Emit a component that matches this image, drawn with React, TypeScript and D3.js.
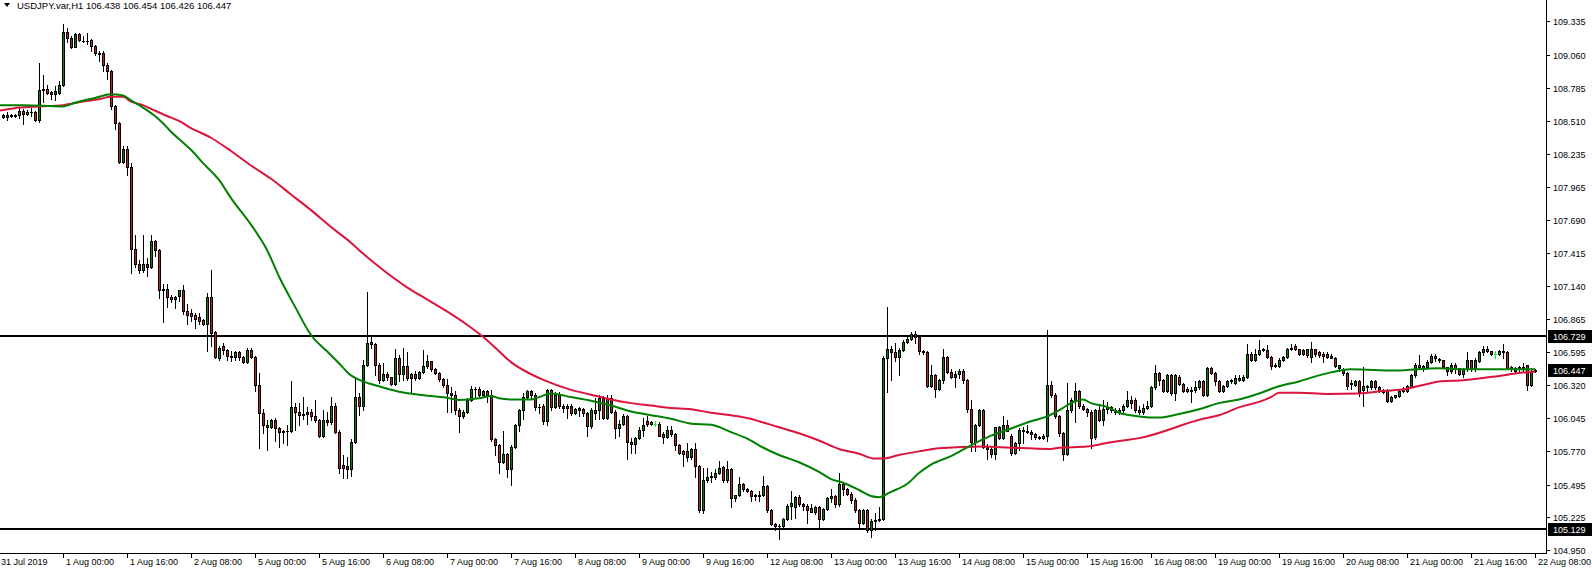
import React from 'react';
import * as d3 from 'd3';

type Bar = [number, number, number, number]; // open, high, low, close

// ---- hourly candles, one array per trading day ----
const jul31: Bar[] = [
  [108.56,108.57,108.53,108.54],[108.54,108.58,108.52,108.56],[108.56,108.57,108.54,108.55],
  [108.55,108.57,108.54,108.56],[108.56,108.62,108.53,108.59],[108.59,108.61,108.48,108.57],
  [108.57,108.60,108.56,108.58],[108.58,108.62,108.55,108.585],[108.58,108.59,108.51,108.52],
  [108.52,108.99,108.50,108.77],[108.77,108.89,108.67,108.775],[108.775,108.81,108.73,108.74],
  [108.75,108.76,108.69,108.73],[108.73,108.80,108.68,108.76],[108.74,108.84,108.73,108.81],
];
const aug01: Bar[] = [
  [108.81,109.31,108.80,109.25],[109.25,109.28,109.16,109.20],[109.20,109.21,109.11,109.12],
  [109.12,109.24,109.12,109.23],[109.23,109.24,109.17,109.18],[109.175,109.21,109.16,109.17],
  [109.17,109.24,109.15,109.175],[109.18,109.19,109.09,109.13],[109.13,109.14,109.06,109.07],
  [109.07,109.09,109.01,109.065],[109.07,109.09,108.92,108.97],[108.97,108.99,108.86,108.92],
  [108.92,108.93,108.61,108.63],[108.63,108.64,108.44,108.49],[108.49,108.50,108.16,108.17],
  [108.17,108.30,108.16,108.28],[108.28,108.30,108.06,108.13],[108.13,108.16,107.25,107.45],
  [107.45,107.56,107.30,107.32],[107.32,107.36,107.25,107.27],[107.27,107.56,107.26,107.32],
  [107.32,107.37,107.22,107.30],[107.30,107.56,107.29,107.51],[107.51,107.52,107.39,107.44],
];
const aug02: Bar[] = [
  [107.44,107.45,107.04,107.11],[107.12,107.16,106.84,107.11],[107.12,107.16,106.97,107.05],
  [107.05,107.07,107.01,107.03],[107.05,107.06,106.96,107.03],[107.06,107.11,107.02,107.11],
  [107.11,107.15,106.91,106.93],[106.93,106.99,106.83,106.90],[106.92,106.95,106.85,106.89],
  [106.90,106.92,106.79,106.87],[106.88,106.92,106.83,106.85],[106.86,106.87,106.82,106.83],
  [106.83,107.08,106.60,107.05],[107.05,107.27,106.64,106.75],[106.76,106.77,106.54,106.55],
  [106.54,106.64,106.53,106.63],[106.64,106.67,106.58,106.61],[106.61,106.62,106.53,106.56],
  [106.56,106.60,106.52,106.55],[106.55,106.60,106.53,106.59],[106.59,106.60,106.53,106.55],
  [106.55,106.56,106.50,106.51],[106.51,106.63,106.50,106.61],[106.61,106.63,106.54,106.55],
];
const aug05: Bar[] = [
  [106.55,106.56,106.27,106.32],[106.32,106.42,105.80,106.09],[106.09,106.12,105.92,105.99],
  [105.99,106.03,105.78,105.97],[105.97,106.04,105.96,106.03],[106.03,106.05,105.86,105.96],
  [105.96,105.97,105.81,105.93],[105.93,105.95,105.84,105.935],[105.94,105.99,105.82,105.935],
  [105.94,106.35,105.93,106.14],[106.14,106.17,105.95,106.10],[106.10,106.17,105.99,106.07],
  [106.07,106.22,106.04,106.08],[106.08,106.14,106.00,106.10],[106.10,106.12,106.03,106.06],
  [106.06,106.20,106.01,106.03],[106.03,106.04,105.89,105.90],[105.90,106.11,105.89,106.03],
  [106.03,106.10,105.99,106.01],[106.01,106.22,106.00,106.15],[106.15,106.17,105.92,105.93],
  [105.93,105.95,105.59,105.63],[105.66,105.74,105.55,105.63],[105.65,105.72,105.55,105.62],
];
const aug06: Bar[] = [
  [105.62,105.87,105.57,105.85],[105.85,106.37,105.84,106.22],[106.22,106.25,106.07,106.15],
  [106.15,106.53,106.11,106.49],[106.49,107.09,106.48,106.67],[106.68,106.73,106.63,106.66],
  [106.66,106.67,106.40,106.49],[106.49,106.50,106.34,106.36],[106.36,106.50,106.35,106.41],
  [106.41,106.43,106.36,106.39],[106.39,106.39,106.32,106.33],[106.33,106.62,106.32,106.54],
  [106.54,106.57,106.35,106.41],[106.41,106.63,106.36,106.48],[106.48,106.59,106.36,106.38],
  [106.38,106.42,106.25,106.41],[106.41,106.44,106.36,106.38],[106.38,106.44,106.37,106.43],
  [106.43,106.61,106.42,106.48],[106.48,106.57,106.46,106.52],[106.52,106.52,106.44,106.45],
  [106.45,106.46,106.41,106.42],[106.42,106.43,106.35,106.37],[106.37,106.38,106.30,106.32],
];
const aug07: Bar[] = [
  [106.32,106.37,106.10,106.25],[106.25,106.30,106.10,106.24],[106.24,106.27,106.08,106.11],
  [106.11,106.13,105.93,106.06],[106.06,106.11,106.05,106.10],[106.10,106.21,106.09,106.20],
  [106.20,106.31,106.19,106.29],[106.29,106.30,106.22,106.285],[106.29,106.30,106.23,106.24],
  [106.24,106.28,106.23,106.27],[106.27,106.28,106.18,106.24],[106.24,106.28,105.86,105.87],
  [105.87,105.88,105.74,105.82],[105.82,105.83,105.59,105.68],[105.68,105.94,105.67,105.75],
  [105.75,105.76,105.56,105.62],[105.62,105.82,105.49,105.81],[105.81,106.00,105.80,105.99],
  [105.99,106.12,105.94,106.11],[106.11,106.25,106.04,106.22],[106.22,106.28,106.21,106.27],
  [106.27,106.28,106.21,106.24],[106.24,106.25,106.11,106.14],[106.14,106.16,106.09,106.135],
];
const aug08: Bar[] = [
  [106.15,106.16,106.00,106.02],[106.02,106.29,105.99,106.28],[106.28,106.29,106.11,106.14],
  [106.14,106.26,106.13,106.24],[106.24,106.26,106.13,106.15],[106.15,106.16,106.10,106.13],
  [106.13,106.16,106.05,106.15],[106.15,106.16,106.07,106.09],[106.09,106.13,106.08,106.12],
  [106.11,106.14,106.06,106.13],[106.12,106.13,106.06,106.09],[106.09,106.10,105.90,105.98],
  [105.98,106.13,105.96,106.11],[106.09,106.21,106.04,106.11],[106.11,106.24,106.04,106.21],
  [106.21,106.23,106.04,106.05],[106.05,106.24,106.04,106.21],[106.21,106.24,106.09,106.10],
  [106.10,106.11,105.88,105.96],[105.96,106.03,105.90,106.00],[106.00,106.08,105.99,106.06],
  [106.06,106.07,105.71,105.85],[105.85,105.88,105.76,105.83],[105.83,105.89,105.76,105.88],
];
const aug09: Bar[] = [
  [105.88,105.97,105.87,105.95],[105.95,106.05,105.90,105.99],[106.02,106.06,105.98,106.00],
  [106.01,106.02,105.99,106.00],[106.00,106.02,105.98,106.00],[106.00,106.01,105.90,105.90],
  [105.91,105.93,105.84,105.89],[105.89,105.98,105.88,105.95],[105.95,105.98,105.90,105.91],
  [105.91,105.92,105.78,105.82],[105.82,105.83,105.75,105.76],[105.77,105.78,105.65,105.75],
  [105.77,105.84,105.69,105.72],[105.72,105.80,105.71,105.79],[105.79,105.84,105.56,105.65],
  [105.65,105.66,105.27,105.28],[105.28,105.63,105.26,105.53],[105.53,105.63,105.52,105.56],
  [105.57,105.60,105.52,105.56],[105.56,105.62,105.54,105.59],[105.59,105.69,105.58,105.63],
  [105.64,105.65,105.52,105.53],[105.53,105.69,105.52,105.62],[105.62,105.63,105.31,105.38],
];
const aug12: Bar[] = [
  [105.38,105.41,105.36,105.41],[105.41,105.56,105.40,105.50],[105.50,105.51,105.44,105.46],
  [105.46,105.47,105.43,105.44],[105.44,105.45,105.36,105.40],[105.40,105.42,105.37,105.405],
  [105.40,105.44,105.36,105.405],[105.41,105.57,105.40,105.48],[105.48,105.49,105.27,105.28],
  [105.28,105.29,105.16,105.17],[105.17,105.18,105.12,105.15],[105.15,105.17,105.04,105.155],
  [105.15,105.22,105.14,105.21],[105.21,105.33,105.20,105.32],[105.32,105.44,105.21,105.34],
  [105.31,105.40,105.22,105.39],[105.39,105.41,105.32,105.33],[105.33,105.34,105.28,105.32],
  [105.32,105.33,105.18,105.28],[105.30,105.33,105.27,105.27],[105.27,105.32,105.25,105.31],
  [105.31,105.32,105.14,105.21],[105.21,105.30,105.20,105.29],[105.29,105.39,105.28,105.38],
];
const aug13: Bar[] = [
  [105.38,105.46,105.35,105.40],[105.40,105.41,105.31,105.33],[105.33,105.59,105.32,105.50],
  [105.50,105.52,105.41,105.46],[105.46,105.47,105.41,105.42],[105.42,105.43,105.34,105.37],
  [105.37,105.38,105.27,105.28],[105.28,105.29,105.13,105.18],[105.18,105.29,105.17,105.28],
  [105.28,105.29,105.10,105.12],[105.12,105.21,105.06,105.19],[105.20,105.26,105.12,105.195],
  [105.20,105.31,105.19,105.21],[105.21,106.56,105.20,106.54],[106.54,106.97,106.26,106.62],
  [106.62,106.64,106.36,106.59],[106.59,106.67,106.52,106.55],[106.55,106.63,106.40,106.61],
  [106.61,106.69,106.60,106.68],[106.68,106.72,106.67,106.70],[106.70,106.76,106.69,106.74],
  [106.74,106.77,106.67,106.72],[106.72,106.73,106.58,106.60],[106.60,106.61,106.58,106.59],
];
const aug14: Bar[] = [
  [106.59,106.60,106.30,106.31],[106.31,106.49,106.30,106.40],[106.40,106.41,106.22,106.29],
  [106.29,106.37,106.28,106.36],[106.36,106.62,106.34,106.55],[106.55,106.56,106.42,106.43],
  [106.43,106.45,106.38,106.39],[106.39,106.44,106.30,106.41],[106.41,106.45,106.38,106.44],
  [106.44,106.45,106.34,106.36],[106.36,106.37,106.10,106.12],[106.12,106.20,105.77,105.85],
  [105.85,106.00,105.77,105.99],[105.99,106.12,105.98,106.11],[106.11,106.12,105.80,105.81],
  [105.81,105.83,105.71,105.79],[105.79,105.81,105.72,105.75],[105.75,105.97,105.71,105.97],
  [105.97,105.98,105.87,105.88],[105.88,106.06,105.87,105.99],[105.99,106.03,105.95,105.94],
  [105.90,105.91,105.74,105.76],[105.76,105.85,105.75,105.84],[105.84,105.96,105.78,105.95],
];
const aug15: Bar[] = [
  [105.95,105.97,105.84,105.94],[105.94,105.99,105.92,105.93],[105.93,105.95,105.87,105.91],
  [105.91,105.92,105.87,105.89],[105.89,105.90,105.87,105.88],[105.88,105.91,105.87,105.90],
  [105.90,106.78,105.86,106.32],[106.32,106.35,106.22,106.24],[106.24,106.25,106.05,106.06],
  [106.06,106.07,105.90,105.92],[105.92,105.93,105.70,105.75],[105.75,106.34,105.74,106.11],
  [106.11,106.21,106.10,106.20],[106.20,106.34,106.01,106.27],[106.27,106.28,106.13,106.15],
  [106.15,106.16,106.11,106.12],[106.12,106.13,106.06,106.10],[106.10,106.11,105.80,105.88],
  [105.89,106.12,105.87,106.11],[106.11,106.16,106.02,106.03],[106.03,106.20,105.99,106.12],
  [106.12,106.18,106.09,106.14],[106.14,106.15,106.10,106.11],[106.11,106.13,106.08,106.10],
];
const aug16: Bar[] = [
  [106.10,106.13,106.08,106.11],[106.11,106.16,106.10,106.15],[106.15,106.27,106.14,106.20],
  [106.20,106.23,106.13,106.17],[106.20,106.21,106.10,106.11],[106.11,106.15,106.08,106.10],
  [106.10,106.16,106.08,106.13],[106.13,106.19,106.12,106.15],[106.15,106.31,106.14,106.30],
  [106.30,106.49,106.29,106.42],[106.42,106.43,106.32,106.36],[106.36,106.37,106.26,106.27],
  [106.27,106.41,106.26,106.40],[106.40,106.41,106.24,106.25],[106.25,106.41,106.20,106.40],
  [106.39,106.40,106.32,106.33],[106.33,106.34,106.26,106.27],[106.29,106.30,106.26,106.27],
  [106.27,106.30,106.18,106.28],[106.28,106.35,106.26,106.30],[106.30,106.36,106.29,106.35],
  [106.35,106.36,106.23,106.24],[106.24,106.47,106.23,106.46],[106.46,106.47,106.41,106.42],
];
const aug19: Bar[] = [
  [106.42,106.43,106.32,106.35],[106.35,106.36,106.26,106.27],[106.27,106.32,106.26,106.31],
  [106.31,106.36,106.30,106.35],[106.36,106.37,106.34,106.35],[106.34,106.40,106.33,106.38],
  [106.38,106.40,106.35,106.36],[106.36,106.40,106.35,106.39],[106.39,106.66,106.38,106.58],
  [106.58,106.59,106.52,106.53],[106.53,106.62,106.52,106.58],[106.58,106.69,106.57,106.61],
  [106.62,106.63,106.60,106.61],[106.61,106.65,106.54,106.55],[106.55,106.56,106.45,106.48],
  [106.49,106.50,106.47,106.48],[106.48,106.54,106.47,106.53],[106.53,106.56,106.52,106.55],
  [106.55,106.63,106.54,106.62],[106.62,106.66,106.61,106.63],[106.64,106.66,106.61,106.62],
  [106.62,106.62,106.57,106.58],[106.58,106.62,106.57,106.61],[106.62,106.62,106.55,106.57],
];
const aug20: Bar[] = [
  [106.55,106.68,106.51,106.62],[106.62,106.62,106.56,106.58],[106.59,106.60,106.55,106.57],
  [106.58,106.59,106.51,106.56],[106.58,106.59,106.54,106.55],[106.56,106.58,106.54,106.54],
  [106.54,106.55,106.47,106.48],[106.46,106.49,106.44,106.49],[106.45,106.46,106.40,106.42],
  [106.42,106.43,106.29,106.31],[106.33,106.36,106.29,106.34],[106.32,106.36,106.31,106.35],
  [106.35,106.36,106.23,106.26],[106.28,106.47,106.15,106.31],[106.30,106.32,106.27,106.31],
  [106.30,106.36,106.29,106.35],[106.35,106.36,106.29,106.30],[106.30,106.31,106.26,106.28],
  [106.28,106.29,106.25,106.26],[106.28,106.29,106.18,106.19],[106.19,106.23,106.18,106.22],
  [106.22,106.24,106.21,106.24],[106.23,106.28,106.22,106.27],[106.27,106.30,106.26,106.29],
];
const aug21: Bar[] = [
  [106.31,106.32,106.26,106.27],[106.30,106.41,106.30,106.40],[106.40,106.50,106.39,106.49],
  [106.49,106.57,106.45,106.47],[106.46,106.49,106.44,106.48],[106.47,106.53,106.46,106.51],
  [106.51,106.58,106.50,106.56],[106.56,106.58,106.52,106.54],[106.53,106.54,106.51,106.532],
  [106.53,106.53,106.46,106.47],[106.47,106.47,106.40,106.44],[106.44,106.50,106.42,106.49],
  [106.49,106.50,106.42,106.45],[106.46,106.46,106.40,106.41],[106.41,106.46,106.39,106.45],
  [106.45,106.59,106.44,106.53],[106.53,106.53,106.44,106.45],[106.45,106.54,106.44,106.53],
  [106.52,106.60,106.51,106.59],[106.59,106.64,106.57,106.62],[106.62,106.64,106.59,106.60],
  [106.60,106.60,106.57,106.58],[106.58,106.60,106.54,106.58],[106.58,106.61,106.57,106.60],
];
const aug22: Bar[] = [
  [106.60,106.66,106.54,106.598],[106.59,106.60,106.45,106.46],[106.47,106.48,106.44,106.45],
  [106.44,106.47,106.43,106.46],[106.45,106.48,106.44,106.47],[106.47,106.50,106.44,106.46],
  [106.49,106.49,106.28,106.32],[106.32,106.46,106.31,106.44],[106.438,106.454,106.426,106.447],
];

// ---- moving averages: [bar index, value] ----
const maGreen: [number, number][] = [
  [-0.75,108.64],[5,108.64],[15,108.63],[18,108.66],[23,108.70],[27,108.73],[30,108.72],[32,108.68],
  [35,108.62],[38,108.55],[40,108.49],[42,108.42],[45,108.33],[47,108.27],[50,108.16],
  [54,108.02],[57,107.87],[62,107.65],[66,107.44],[69,107.22],[73,106.97],[77,106.735],[81,106.60],
  [84,106.50],[87,106.40],[90,106.35],[94,106.31],[99,106.265],[104,106.24],[111,106.215],[114,106.196],
  [119,106.21],[122,106.23],[124,106.21],[127,106.20],[132,106.20],[134,106.22],[137,106.25],[142,106.22],
  [147,106.19],[152,106.15],[157,106.10],[162,106.07],[167,106.04],[172,106.00],[177,105.99],[182,105.93],
  [187,105.86],[189,105.82],[194,105.74],[199,105.68],[204,105.60],[207,105.54],[210,105.51],[214,105.45],
  [217,105.40],[219,105.39],[222,105.435],[226,105.50],[229,105.59],[232,105.66],[237,105.73],[242,105.82],
  [247,105.90],[252,105.96],[257,106.02],[261,106.06],[264,106.11],[267,106.17],[270,106.20],[272,106.17],
  [276,106.14],[279,106.09],[284,106.06],[289,106.05],[294,106.08],[299,106.12],[304,106.17],[309,106.20],
  [314,106.25],[319,106.31],[324,106.35],[329,106.40],[332,106.425],[337,106.45],[348,106.44],[359,106.46],
  [365,106.45],[371,106.45],[379,106.45],[383,106.45],
];
const maRed: [number, number][] = [
  [-0.75,108.595],[2,108.61],[4,108.62],[9,108.63],[15,108.64],[20,108.67],[24,108.69],[27,108.71],
  [30,108.71],[32,108.67],[35,108.64],[37,108.61],[41,108.55],[44,108.51],[47,108.45],[52,108.37],
  [57,108.26],[62,108.14],[67,108.03],[72,107.90],[77,107.77],[82,107.63],[87,107.50],[90,107.41],
  [94,107.30],[101,107.13],[106,107.03],[111,106.93],[116,106.82],[120,106.72],[124,106.60],[127,106.51],
  [132,106.41],[136,106.35],[142,106.28],[147,106.24],[152,106.20],[157,106.17],[162,106.15],[167,106.13],
  [172,106.12],[177,106.09],[182,106.07],[187,106.04],[189,106.02],[194,105.97],[199,105.92],[204,105.86],
  [209,105.79],[214,105.75],[218,105.71],[220,105.71],[224,105.74],[229,105.77],[234,105.795],[245,105.81],
  [252,105.80],[262,105.79],[264,105.80],[271,105.81],[276,105.84],[280,105.86],[284,105.88],[300,106.04],
  [304,106.07],[309,106.135],[314,106.18],[317,106.22],[319,106.256],[324,106.256],[331,106.246],[339,106.25],
  [345,106.27],[351,106.29],[355,106.32],[359,106.35],[365,106.36],[369,106.375],[374,106.395],[379,106.42],
  [383,106.43],
];

// ---- axis content ----
const priceTicks = [109.335,109.060,108.785,108.510,108.235,107.965,107.690,107.415,107.140,106.865,106.595,106.320,106.045,105.770,105.495,105.225,104.950];
const firstDateLabel = '31 Jul 2019';
const timeLabels = ['1 Aug 00:00','1 Aug 16:00','2 Aug 08:00','5 Aug 00:00','5 Aug 16:00','6 Aug 08:00','7 Aug 00:00','7 Aug 16:00','8 Aug 08:00','9 Aug 00:00','9 Aug 16:00','12 Aug 08:00','13 Aug 00:00','13 Aug 16:00','14 Aug 08:00','15 Aug 00:00','15 Aug 16:00','16 Aug 08:00','19 Aug 00:00','19 Aug 16:00','20 Aug 08:00','21 Aug 00:00','21 Aug 16:00','22 Aug 08:00'];
const levelLines = [106.729, 105.129];
const currentPrice = 106.447;
const symbolTitle = 'USDJPY.var,H1';
const headerOHLC = [106.438, 106.454, 106.426, 106.447];

const W = 1592, H = 570;
const AXIS_X = 1546, AXIS_Y = 553;
const BULL = '#008000', BEAR = '#b22222', DOJI = '#00ff00';
const MA_GREEN = '#008000', MA_RED = '#dc143c';
const FONT = '"Liberation Sans", Arial, sans-serif';

export default function App() {
  const bars: Bar[] = [jul31, aug01, aug02, aug05, aug06, aug07, aug08, aug09, aug12, aug13, aug14, aug15, aug16, aug19, aug20, aug21, aug22].flat();
  const n = bars.length;
  const x = d3.scaleLinear().domain([0, n - 1]).range([3, 3 + 4 * (n - 1)]);
  const y = d3.scaleLinear().domain([105.129, 106.729]).range([528.7, 335.7]);
  const line = d3.line<[number, number]>().x(d => x(d[0])).y(d => y(d[1])).curve(d3.curveMonotoneX);
  const ry = (v: number) => Math.round(y(v));

  return (
    <svg width={W} height={H} style={{ position: 'fixed', left: 0, top: 0, background: '#fff', display: 'block' }}>
      <rect x={0} y={0} width={W} height={H} fill="#fff" />
      <defs>
        <clipPath id="plot"><rect x={0} y={0} width={AXIS_X} height={AXIS_Y} /></clipPath>
      </defs>
      <g clipPath="url(#plot)">
        {levelLines.map((lv, k) => (
          <line key={k} x1={0} x2={AXIS_X} y1={ry(lv)} y2={ry(lv)} stroke="#000" strokeWidth={2} />
        ))}
        {bars.map((b, i) => {
          const [o, h, l, c] = b;
          const cx = Math.round(x(i));
          const yh = ry(h), yl = ry(l), yo = ry(o), yc = ry(c);
          if (o === c) {
            return (
              <g key={i} stroke={DOJI}>
                <line x1={cx + 0.5} x2={cx + 0.5} y1={yh} y2={yl + 1} />
                <line x1={cx - 1} x2={cx + 2} y1={yo + 0.5} y2={yo + 0.5} />
              </g>
            );
          }
          const top = Math.min(yo, yc), bot = Math.max(yo, yc);
          return (
            <g key={i}>
              <line x1={cx + 0.5} x2={cx + 0.5} y1={yh} y2={yl + 1} stroke="#000" />
              {bot - top < 1 ? (
                <line x1={cx - 1} x2={cx + 2} y1={top + 0.5} y2={top + 0.5} stroke="#000" />
              ) : (
                <rect x={cx - 0.5} y={top + 0.5} width={2} height={bot - top} fill={c > o ? BULL : BEAR} stroke="#000" />
              )}
            </g>
          );
        })}
        <path d={line(maRed) || ''} fill="none" stroke={MA_RED} strokeWidth={2} />
        <path d={line(maGreen) || ''} fill="none" stroke={MA_GREEN} strokeWidth={2} />
      </g>

      {/* axes */}
      <line x1={AXIS_X + 0.5} x2={AXIS_X + 0.5} y1={0} y2={AXIS_Y + 1} stroke="#000" />
      <line x1={0} x2={AXIS_X + 1} y1={AXIS_Y + 0.5} y2={AXIS_Y + 0.5} stroke="#000" />

      <g fontFamily={FONT} fontSize={9} fill="#000">
        {priceTicks.map((v, k) => (
          <g key={k}>
            <line x1={AXIS_X} x2={AXIS_X + 4} y1={ry(v) + 0.5} y2={ry(v) + 0.5} stroke="#000" />
            <text x={AXIS_X + 7} y={ry(v) + 3.5}>{v.toFixed(3)}</text>
          </g>
        ))}
        {[...levelLines, currentPrice].map((v, k) => (
          <g key={'b' + k}>
            <rect x={AXIS_X + 2} y={ry(v) - 6} width={W - AXIS_X - 2} height={13} fill="#000" />
            <text x={AXIS_X + 7} y={ry(v) + 4} fill="#fff">{v.toFixed(3)}</text>
          </g>
        ))}
        <text x={1} y={565}>{firstDateLabel}</text>
        {timeLabels.map((t, k) => {
          const tx = Math.round(x(15 + 16 * k));
          return (
            <g key={t}>
              <line x1={tx + 0.5} x2={tx + 0.5} y1={AXIS_Y} y2={AXIS_Y + 5} stroke="#000" />
              <text x={tx + 3} y={565}>{t}</text>
            </g>
          );
        })}
        <path d="M4,3 L10,3 L7,7 Z" fill="#000" />
        <text x={17} y={9} fontSize={9.5}>{symbolTitle}{'  '}{headerOHLC.map(v => v.toFixed(3)).join(' ')}</text>
      </g>
    </svg>
  );
}
